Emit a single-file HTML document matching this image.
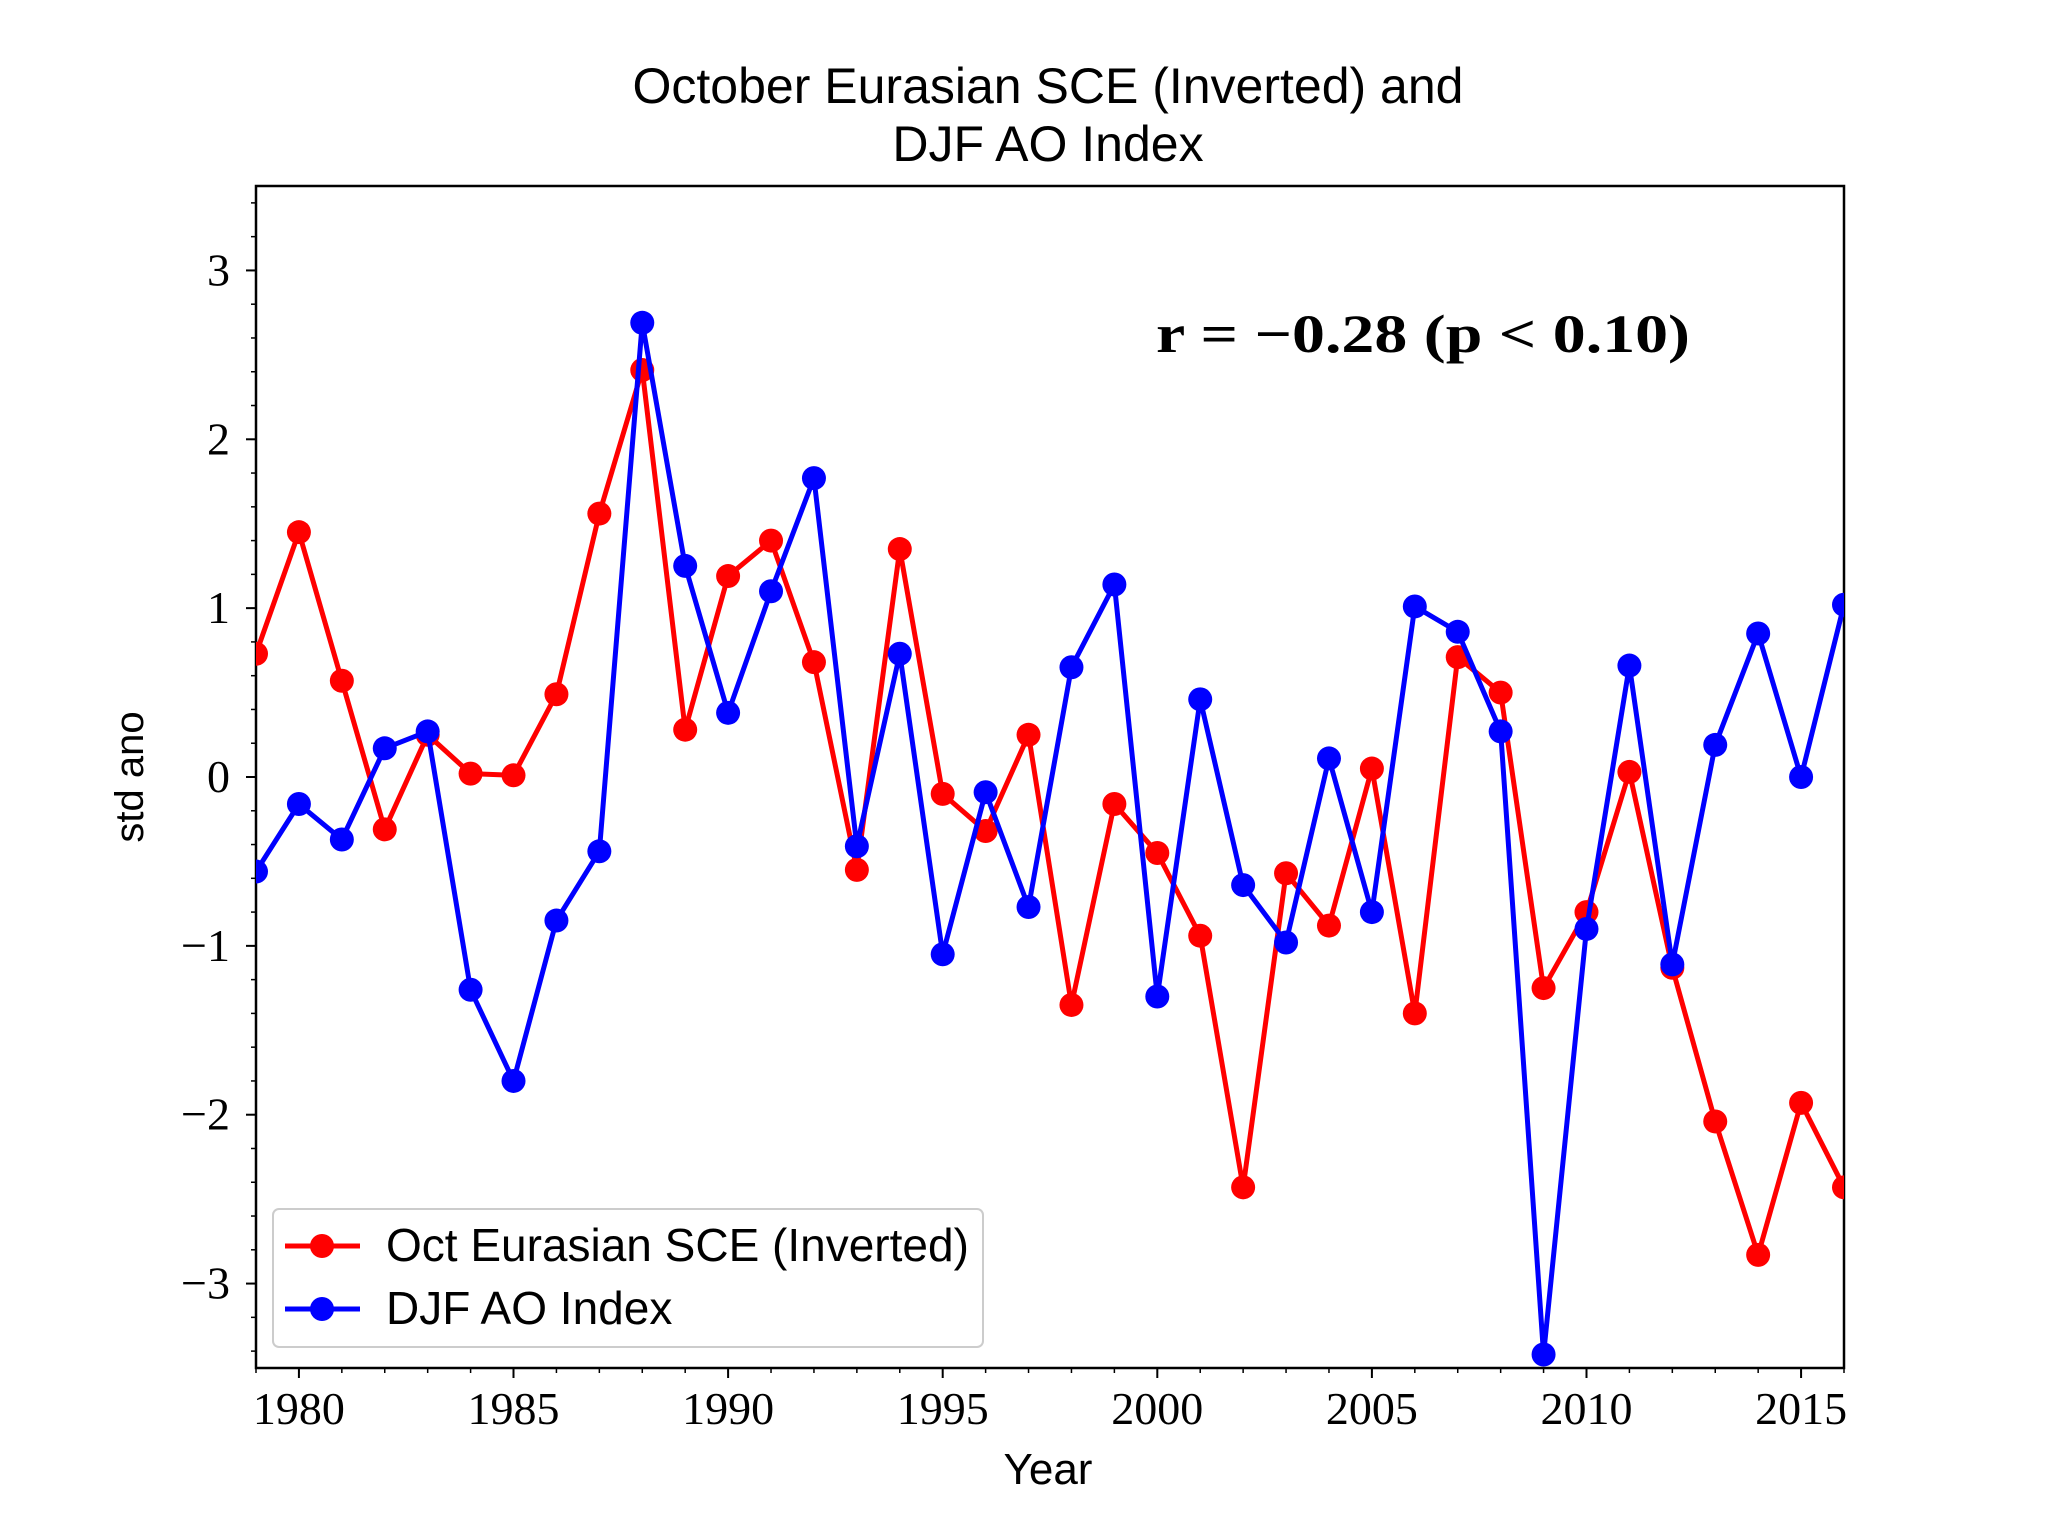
<!DOCTYPE html>
<html><head><meta charset="utf-8"><style>
html,body{margin:0;padding:0;background:#fff;}
svg{display:block;}
</style></head><body>
<svg id="chart" width="2048" height="1536" xmlns="http://www.w3.org/2000/svg">
<rect width="2048" height="1536" fill="#fff"/>
<text x="1048" y="103" text-anchor="middle" font-family="Liberation Sans, sans-serif" font-size="50">October Eurasian SCE (Inverted) and</text>
<text x="1048" y="161" text-anchor="middle" font-family="Liberation Sans, sans-serif" font-size="50">DJF AO Index</text>
<g id="axes"></g>
<g id="series"></g>
<text x="1156" y="352" textLength="534" lengthAdjust="spacingAndGlyphs" font-family="Liberation Serif, serif" font-weight="bold" font-size="54">r = −0.28 (p &lt; 0.10)</text>
<text transform="translate(143,777) rotate(-90)" text-anchor="middle" font-family="Liberation Sans, sans-serif" font-size="40">std ano</text>
<text x="1048" y="1484" text-anchor="middle" font-family="Liberation Sans, sans-serif" font-size="44">Year</text>
<g>
<rect x="273" y="1209" width="710" height="138" rx="6" fill="#fff" stroke="#ccc" stroke-width="2"/>
<line x1="285" y1="1246" x2="360" y2="1246" stroke="#ff0000" stroke-width="5"/>
<circle cx="322" cy="1246" r="12" fill="#ff0000"/>
<text x="386" y="1261" font-family="Liberation Sans, sans-serif" font-size="46">Oct Eurasian SCE (Inverted)</text>
<line x1="285" y1="1309" x2="360" y2="1309" stroke="#0000ff" stroke-width="5"/>
<circle cx="322" cy="1309" r="12" fill="#0000ff"/>
<text x="386" y="1324" font-family="Liberation Sans, sans-serif" font-size="46">DJF AO Index</text>
</g>
</svg>
<script>
const years=[1979,1980,1981,1982,1983,1984,1985,1986,1987,1988,1989,1990,1991,1992,1993,1994,1995,1996,1997,1998,1999,2000,2001,2002,2003,2004,2005,2006,2007,2008,2009,2010,2011,2012,2013,2014,2015,2016];
const sceValues=[0.73,1.45,0.57,-0.31,0.25,0.02,0.01,0.49,1.56,2.41,0.28,1.19,1.40,0.68,-0.55,1.35,-0.10,-0.32,0.25,-1.35,-0.16,-0.45,-0.94,-2.43,-0.57,-0.88,0.05,-1.40,0.71,0.50,-1.25,-0.80,0.03,-1.13,-2.04,-2.83,-1.93,-2.43];
const aoValues=[-0.56,-0.16,-0.37,0.17,0.27,-1.26,-1.80,-0.85,-0.44,2.69,1.25,0.38,1.10,1.77,-0.41,0.73,-1.05,-0.09,-0.77,0.65,1.14,-1.30,0.46,-0.64,-0.98,0.11,-0.80,1.01,0.86,0.27,-3.42,-0.90,0.66,-1.11,0.19,0.85,0.00,1.02];
const xTicks=[1980,1985,1990,1995,2000,2005,2010,2015];
const yTicks=[-3,-2,-1,0,1,2,3];
const L=256,R=1844,T=186,B=1368;
const xMin=1979,xMax=2016,yMin=-3.5,yMax=3.5;
const sx=v=>L+(v-xMin)/(xMax-xMin)*(R-L);
const sy=v=>B-(v-yMin)/(yMax-yMin)*(B-T);
const NS='http://www.w3.org/2000/svg';
function mk(tag,attrs,parent){const e=document.createElementNS(NS,tag);for(const k in attrs)e.setAttribute(k,attrs[k]);parent.appendChild(e);return e;}
const ax=document.getElementById('axes');
for(let y=xMin;y<=xMax;y++){const t=mk('line',{x1:sx(y),x2:sx(y),y1:B,y2:B+5,stroke:'#000','stroke-width':1.5},ax);

}
for(let v=-34;v<=34;v+=2){const t=mk('line',{x1:L-5,x2:L,y1:sy(v/10),y2:sy(v/10),stroke:'#000','stroke-width':1.5},ax);

}
xTicks.forEach(v=>{const t=mk('line',{x1:sx(v),x2:sx(v),y1:B,y2:B+10,stroke:'#000','stroke-width':2},ax);


const l=mk('text',{x:sx(v),y:B+56,'text-anchor':'middle','font-family':'Liberation Serif, serif','font-size':46},ax);l.textContent=v;

});
yTicks.forEach(v=>{const t=mk('line',{x1:L-10,x2:L,y1:sy(v),y2:sy(v),stroke:'#000','stroke-width':2},ax);


const l=mk('text',{x:L-26,y:sy(v)+15,'text-anchor':'end','font-family':'Liberation Serif, serif','font-size':46},ax);l.textContent=(v<0?'−':'')+Math.abs(v);

});
const frame=mk('rect',{x:L,y:T,width:R-L,height:B-T,fill:'none',stroke:'#000','stroke-width':2.5},ax);


const sg=document.getElementById('series');
const clip=mk('clipPath',{id:'pc'},sg);mk('rect',{x:L,y:T,width:R-L,height:B-T},clip);
function drawSeries(vals,color,name){
const g=mk('g',{'clip-path':'url(#pc)'},sg);


const p=mk('polyline',{points:vals.map((v,i)=>sx(years[i])+','+sy(v)).join(' '),fill:'none',stroke:color,'stroke-width':5,'stroke-linejoin':'round'},g);


vals.forEach((v,i)=>{const c=mk('circle',{cx:sx(years[i]),cy:sy(v),r:12,fill:color},g);

});}
drawSeries(sceValues,'#ff0000','sce');
drawSeries(aoValues,'#0000ff','ao');
</script>
</body></html>
